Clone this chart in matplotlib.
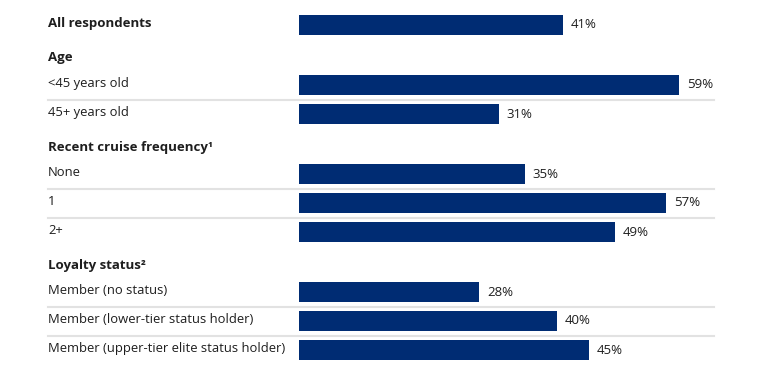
import matplotlib
matplotlib.use("Agg")
import matplotlib.pyplot as plt
from matplotlib.transforms import blended_transform_factory

plt.rcParams['font.family'] = ['Open Sans', 'DejaVu Sans']

# groups: heading (None = no heading, label itself bold), labels, values
group_titles = [None, "Age", "Recent cruise frequency\u00b9", "Loyalty status\u00b2"]
group_labels = [
    ["All respondents"],
    ["<45 years old", "45+ years old"],
    ["None", "1", "2+"],
    ["Member (no status)", "Member (lower-tier status holder)",
     "Member (upper-tier elite status holder)"],
]
group_values = [
    [41],
    [59, 31],
    [35, 57, 49],
    [28, 40, 45],
]

BAR_COLOR = "#002c73"
TEXT_COLOR = "#1e1e1e"
SEP_COLOR = "#e2e2e2"

W, H = 772, 377
fig = plt.figure(figsize=(W / 100, H / 100), dpi=100)
ax_left, ax_right = 299, 714
ax = fig.add_axes([ax_left / W, 0, (ax_right - ax_left) / W, 1])
ax.set_xlim(0, 64.4)
ax.set_ylim(H, 0)
ax.axis("off")

label_tr = blended_transform_factory(fig.transFigure, ax.transData)
label_x = 48 / W
sep_xmin = (48 - ax_left) / (ax_right - ax_left)

# vertical layout in pixel units
step = 29
heading_to_bar = 27
bar_to_heading = 33
y = 25
for gi, (title, labels, values) in enumerate(zip(group_titles, group_labels, group_values)):
    if title is not None:
        y += bar_to_heading
        ax.text(label_x, y, title, transform=label_tr, ha="left", va="center",
                fontsize=9.5, fontweight="bold", color=TEXT_COLOR)
        y += heading_to_bar
    for i, (lab, val) in enumerate(zip(labels, values)):
        if i > 0:
            ax.axhline(y + step / 2, xmin=sep_xmin, xmax=1.0, color=SEP_COLOR,
                       lw=1.5, clip_on=False)
            y += step
        ax.barh(y, val, height=20, color=BAR_COLOR)
        ax.text(val + 1.2, y, f"{val}%", ha="left", va="center",
                fontsize=9.5, color=TEXT_COLOR)
        ax.text(label_x, y - 1.5, lab, transform=label_tr, ha="left", va="center",
                fontsize=9.5 if title is None else 9.4,
                fontweight="bold" if title is None else "normal", color=TEXT_COLOR)

fig.savefig("out.png", dpi=100)
